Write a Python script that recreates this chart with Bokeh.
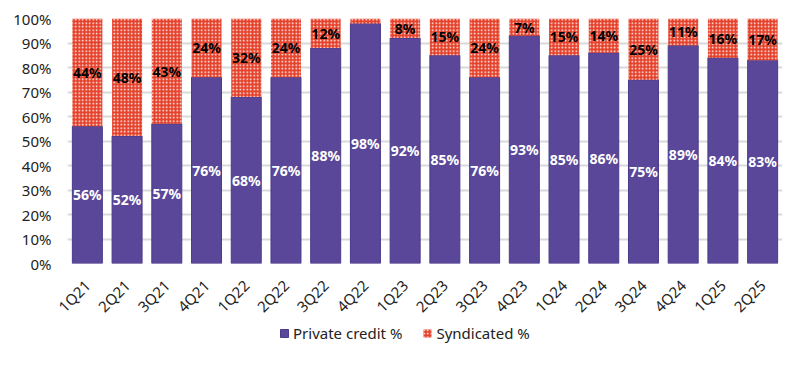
from bokeh.plotting import figure
from bokeh.layouts import column
from bokeh.models import ColumnDataSource, Legend, LegendItem, CustomJSTickFormatter, FixedTicker, Range1d, FactorRange
from bokeh.embed import file_html
from bokeh.resources import INLINE
from bokeh.core.properties import value

quarters = ["1Q21", "2Q21", "3Q21", "4Q21", "1Q22", "2Q22", "3Q22", "4Q22", "1Q23",
            "2Q23", "3Q23", "4Q23", "1Q24", "2Q24", "3Q24", "4Q24", "1Q25", "2Q25"]
private_pct = [56, 52, 57, 76, 68, 76, 88, 98, 92, 85, 76, 93, 85, 86, 75, 89, 84, 83]
synd_pct = [44, 48, 43, 24, 32, 24, 12, 2, 8, 15, 24, 7, 15, 14, 25, 11, 16, 17]
yticks = [0, 10, 20, 30, 40, 50, 60, 70, 80, 90, 100]

PURPLE = "#5A4799"
RED = "#E5412A"
FONT = "Noto Sans"

top = [a + b for a, b in zip(private_pct, synd_pct)]
src = ColumnDataSource(dict(
    q=quarters, priv=private_pct, synd=synd_pct, top=top,
    priv_mid=[a / 2 for a in private_pct],
    synd_mid=[a + b / 2 for a, b in zip(private_pct, synd_pct)],
    priv_lbl=[f"{a}%" for a in private_pct],
    synd_lbl=[f"{b}%" if b >= 5 else "" for b in synd_pct],
))

BAR_STYLE_P = dict(fill_color=PURPLE, line_color="#4A3A8A", line_width=1)
BAR_STYLE_S = dict(fill_color=RED, line_color=None, hatch_pattern="dot", hatch_color="white",
                   hatch_scale=3.5, hatch_weight=1.2)

p = figure(frame_width=715, frame_height=245, x_range=FactorRange(*quarters, range_padding=0),
           y_range=Range1d(0, 100), output_backend="svg", toolbar_location=None,
           min_border_left=67, min_border_right=8, min_border_top=18, min_border_bottom=56)
p.outline_line_color = None

p.vbar(x="q", top="priv", bottom=0, width=0.755, source=src, **BAR_STYLE_P)
p.vbar(x="q", top="top", bottom="priv", width=0.755, source=src, **BAR_STYLE_S)

p.text(x="q", y="priv_mid", text="priv_lbl", source=src, text_align="center",
       text_baseline="middle", text_color="white", text_font=value(FONT),
       text_font_style="bold", text_font_size="14px")
p.text(x="q", y="synd_mid", text="synd_lbl", source=src, text_align="center",
       text_baseline="middle", text_color="black", text_font=value(FONT),
       text_font_style="bold", text_font_size="14px")

p.yaxis.ticker = FixedTicker(ticks=yticks)
p.yaxis.formatter = CustomJSTickFormatter(code="return tick + '%';")
p.yaxis.axis_line_color = None
p.yaxis.major_tick_line_color = None
p.yaxis.minor_tick_line_color = None
p.yaxis.major_label_text_font = FONT
p.yaxis.major_label_text_font_size = "15px"
p.yaxis.major_label_text_color = "#222222"
p.yaxis.major_label_standoff = 10

p.xaxis.axis_line_color = None
p.xaxis.major_tick_line_color = None
p.xaxis.major_label_orientation = 0.785
p.xaxis.major_label_text_font = FONT
p.xaxis.major_label_text_font_size = "15px"
p.xaxis.major_label_text_color = "#222222"
p.xaxis.major_label_standoff = 13

p.xgrid.grid_line_color = None
p.ygrid.grid_line_color = "#D9D9D9"
p.ygrid.grid_line_width = 2
p.ygrid.ticker = FixedTicker(ticks=yticks)

# legend strip (bars drawn out of view, only used for legend swatches)
lg = figure(width=790, height=30, x_range=FactorRange(*quarters), y_range=Range1d(1000, 1001),
            output_backend="svg", toolbar_location=None, x_axis_type=None, y_axis_type=None,
            min_border_left=0, min_border_right=0, min_border_top=0, min_border_bottom=0,
            margin=(-12, 0, 0, 0))
lg.outline_line_color = None
lg.background_fill_alpha = 0
lg.border_fill_alpha = 0
lg.xgrid.grid_line_color = None
lg.ygrid.grid_line_color = None
l1 = lg.vbar(x="q", top="priv", bottom=0, width=0.755, source=src, **BAR_STYLE_P)
l2 = lg.vbar(x="q", top="top", bottom="priv", width=0.755, source=src, **BAR_STYLE_S)

legend = Legend(items=[LegendItem(label="Private credit %", renderers=[l1]),
                       LegendItem(label="Syndicated %", renderers=[l2])],
                orientation="horizontal", location=(212, 1))
legend.label_text_font = FONT
legend.label_text_font_size = "15px"
legend.label_text_color = "#222222"
legend.border_line_color = None
legend.background_fill_alpha = 0
legend.glyph_width = 10
legend.glyph_height = 10
legend.label_standoff = 4
legend.spacing = 20
legend.padding = 4
legend.margin = 0
lg.add_layout(legend, "center")

layout = column(p, lg, spacing=0)
open("out.html", "w").write(file_html(layout, INLINE))
